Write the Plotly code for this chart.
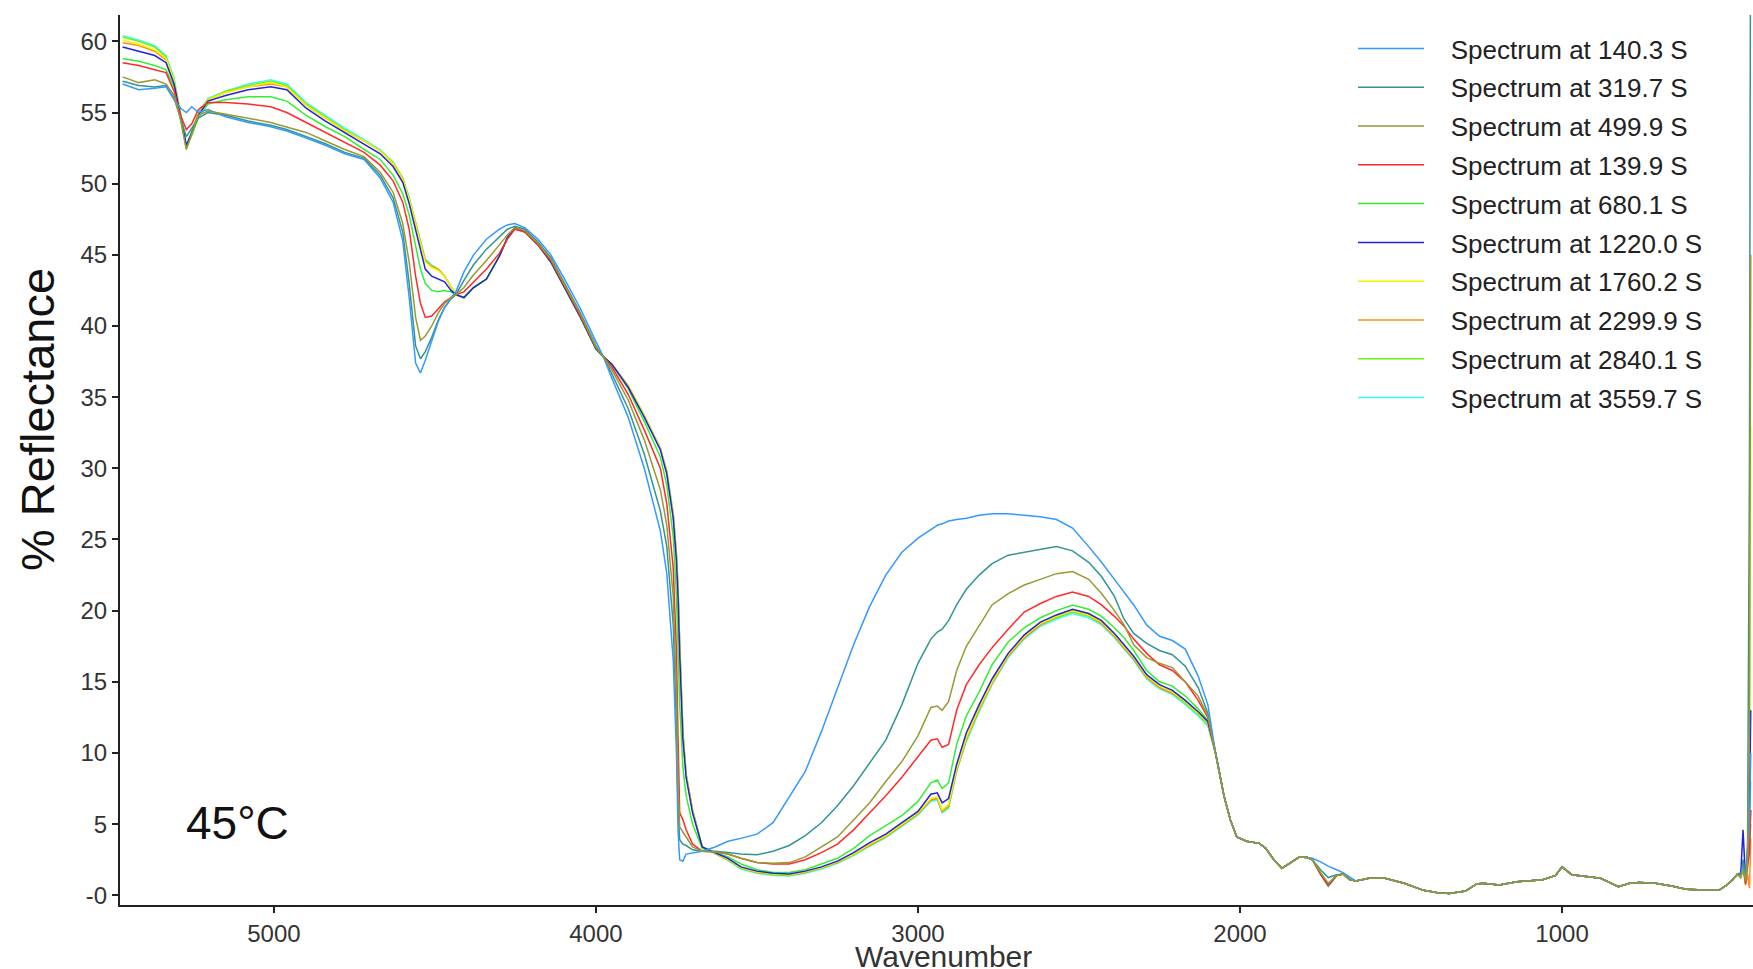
import plotly.graph_objects as go

# ---------------- wavenumber knots (cm-1) ----------------
HEAD_WN = [5470, 5420, 5370, 5335, 5310, 5290, 5272, 5255, 5235, 5205,
           5150, 5080, 5010, 4960, 4900, 4840, 4780, 4720, 4670, 4630,
           4600, 4580, 4560, 4545, 4530, 4510, 4490, 4470, 4450, 4435,
           4410, 4380, 4340, 4300, 4275, 4252, 4220, 4180, 4140, 4100,
           4050, 4000, 3977, 3950, 3900, 3850, 3800, 3780, 3760, 3750,
           3745, 3740, 3730, 3720, 3700, 3670]
MID_WN = [3630, 3590, 3550, 3500, 3450, 3400, 3350, 3300, 3250, 3200,
          3150, 3100, 3050, 3000, 2960, 2940, 2925, 2905, 2880, 2850,
          2810, 2770, 2720, 2670, 2620, 2570, 2520, 2470, 2430, 2390,
          2360, 2330, 2290, 2250, 2210, 2170, 2130, 2100]
TAIL_A_WN = [2075, 2050, 2030, 2010, 1980, 1940, 1920, 1895, 1870, 1845, 1815, 1790]
DIP_WN = [1775, 1750, 1726, 1700, 1680, 1660]
TAIL_B_WN = [1640, 1600, 1550, 1490, 1430, 1390, 1350, 1300, 1265, 1245,
             1195, 1140, 1060, 1020, 1000, 970, 935, 880, 825, 790,
             760, 710, 660, 615, 560, 512, 490, 470, 455]
END_WN = [445, 438, 430, 424, 418, 414]

# ---------------- shared low-wavenumber region (% reflectance) ----------------
TAIL_A = [9.9, 7.0, 5.3, 4.1, 3.8, 3.65, 3.3, 2.5, 1.9, 2.25, 2.7, 2.65]
TAIL_B = [1.0, 1.2, 1.2, 0.85, 0.35, 0.2, 0.12, 0.3, 0.8, 0.85,
          0.72, 0.95, 1.1, 1.4, 2.0, 1.45, 1.35, 1.2, 0.6, 0.85,
          0.9, 0.85, 0.65, 0.42, 0.38, 0.37, 0.7, 1.1, 1.5]

# ---------------- per-spectrum values ----------------
s140_3_head = [57.0, 56.6, 56.7, 56.8, 55.9, 55.3, 55.0, 55.4, 55.0, 55.2,
               54.7, 54.3, 54.0, 53.7, 53.2, 52.7, 52.1, 51.7, 50.4, 48.7,
               46.0, 42.0, 37.4, 36.7, 37.6, 39.0, 40.3, 41.3, 42.0, 42.4,
               43.8, 45.0, 46.1, 46.8, 47.1, 47.2, 46.9, 46.1, 45.0, 43.4,
               41.3, 38.9, 37.85, 36.3, 33.6, 30.0, 25.6, 22.6, 16.5, 10.0,
               4.5, 2.5, 2.4, 2.9, 3.0, 3.1]
s140_3_mid = [3.4, 3.8, 4.0, 4.3, 5.1, 6.9, 8.7, 11.5, 14.6, 17.6,
              20.3, 22.5, 24.1, 25.1, 25.7, 26.0, 26.1, 26.3, 26.4, 26.5,
              26.7, 26.8, 26.8, 26.7, 26.6, 26.4, 25.8, 24.5, 23.4, 22.2,
              21.3, 20.4, 19.0, 18.2, 17.9, 17.3, 15.4, 13.4]
s140_3_dip = [2.6, 2.35, 2.05, 1.8, 1.6, 1.3]
s140_3_end = [1.4, 2.0, 1.0, 3.0, 5.0, 10.0]

s319_7_head = [57.2, 56.9, 56.8, 56.9, 56.0, 54.6, 53.3, 53.9, 54.6, 55.0,
               54.8, 54.4, 54.1, 53.8, 53.3, 52.8, 52.2, 51.8, 50.6, 49.0,
               46.6, 43.0, 38.6, 37.7, 38.2, 39.2, 40.4, 41.3, 41.9, 42.2,
               43.2, 44.3, 45.4, 46.3, 46.8, 47.0, 46.8, 45.9, 44.8, 43.1,
               41.0, 38.6, 37.85, 36.6, 34.2, 31.0, 27.0, 24.5, 19.0, 12.0,
               6.0, 3.9, 3.6, 3.5, 3.2, 3.1]
s319_7_mid = [3.1, 3.0, 2.9, 2.85, 3.1, 3.5, 4.2, 5.1, 6.3, 7.7,
              9.3, 10.9, 13.4, 16.3, 18.0, 18.5, 18.7, 19.3, 20.4, 21.5,
              22.5, 23.3, 23.9, 24.1, 24.3, 24.5, 24.2, 23.4, 22.4, 21.0,
              19.4, 18.4, 17.7, 17.2, 16.9, 16.1, 14.6, 12.8]
s319_7_dip = [2.5, 1.8, 1.25, 1.45, 1.5, 1.15]
s319_7_end = [1.3, 2.5, 1.5, 3.0, 30.0, 75.0]

s499_9_head = [57.5, 57.1, 57.3, 57.0, 56.2, 54.5, 52.4, 53.5, 54.8, 55.1,
               54.9, 54.6, 54.3, 54.0, 53.6, 53.0, 52.4, 51.9, 50.8, 49.4,
               47.2, 44.5, 40.6, 39.0, 39.3, 40.0, 40.9, 41.6, 42.0, 42.2,
               42.7, 43.6, 44.6, 45.7, 46.4, 46.9, 46.7, 45.8, 44.7, 43.0,
               40.9, 38.5, 37.85, 36.9, 34.8, 32.0, 28.5, 26.0, 21.0, 14.0,
               8.0, 4.8, 4.4, 4.1, 3.4, 3.1]
s499_9_mid = [3.05, 2.9, 2.6, 2.3, 2.25, 2.3, 2.7, 3.4, 4.1, 5.3,
              6.5, 8.0, 9.4, 11.2, 13.2, 13.3, 13.0, 13.6, 15.8, 17.5,
              19.0, 20.4, 21.2, 21.8, 22.2, 22.6, 22.75, 22.2, 21.2, 20.0,
              19.0, 17.6, 16.7, 16.3, 16.0, 15.0, 14.0, 12.6]
s499_9_dip = [2.5, 1.6, 0.85, 1.4, 1.5, 1.1]
s499_9_end = [1.2, 1.8, 1.0, 2.5, 12.0, 45.0]

s139_9_head = [58.5, 58.3, 58.0, 57.8, 56.5, 54.8, 53.8, 54.2, 55.2, 55.7,
               55.7, 55.6, 55.4, 55.0, 54.3, 53.6, 52.9, 52.2, 51.3, 50.2,
               48.7, 46.8, 43.5, 41.6, 40.6, 40.7, 41.2, 41.7, 42.0, 42.2,
               42.4, 43.1, 44.0, 45.1, 46.1, 46.8, 46.6, 45.7, 44.6, 42.9,
               40.8, 38.5, 37.85, 37.1, 35.2, 32.7, 30.0, 27.5, 23.0, 17.0,
               11.0, 5.8, 5.3, 4.6, 3.6, 3.1]
s139_9_mid = [3.05, 2.9, 2.6, 2.3, 2.2, 2.2, 2.5, 3.0, 3.6, 4.6,
              5.8, 7.0, 8.3, 9.7, 10.9, 11.0, 10.4, 10.6, 13.0, 14.8,
              16.2, 17.4, 18.7, 19.9, 20.5, 21.0, 21.3, 21.0, 20.4, 19.6,
              18.9, 18.0, 17.0, 16.2, 15.8, 15.0, 13.7, 12.5]
s139_9_dip = [2.5, 1.5, 0.7, 1.4, 1.5, 1.1]
s139_9_end = [1.3, 2.1, 0.8, 2.0, 3.0, 6.0]

s680_1_head = [58.8, 58.6, 58.3, 58.0, 56.8, 54.6, 52.5, 53.4, 54.6, 55.6,
               55.9, 56.1, 56.1, 55.8, 54.8, 54.0, 53.3, 52.4, 51.7, 50.6,
               49.3, 47.8, 45.6, 44.0, 43.0, 42.5, 42.4, 42.5, 42.4, 42.2,
               42.0, 42.7, 43.3, 44.9, 46.2, 46.9, 46.6, 45.7, 44.5, 42.8,
               40.7, 38.4, 37.85, 37.3, 35.6, 33.3, 30.8, 28.8, 25.2, 21.0,
               17.5, 13.5, 9.0, 7.0, 5.0, 3.3]
s680_1_mid = [3.0, 2.7, 2.2, 1.8, 1.6, 1.6, 1.8, 2.2, 2.6, 3.3,
              4.2, 4.9, 5.6, 6.6, 7.9, 8.1, 7.5, 7.9, 10.6, 12.6,
              14.3, 16.2, 17.8, 18.8, 19.5, 20.0, 20.4, 20.1, 19.6, 18.8,
              18.1, 17.2, 15.8, 15.0, 14.7, 14.0, 13.1, 12.3]
s680_1_dip = [2.5, 1.5, 0.7, 1.4, 1.5, 1.1]
s680_1_end = [1.4, 2.3, 0.9, 2.5, 3.5, 5.0]

s1220_0_head = [59.6, 59.3, 59.0, 58.5, 57.0, 54.8, 52.7, 53.6, 54.8, 55.8,
                56.2, 56.6, 56.8, 56.6, 55.3, 54.4, 53.6, 52.8, 52.1, 51.2,
                50.1, 48.6, 46.8, 45.3, 44.0, 43.5, 43.3, 43.1, 42.5, 42.2,
                42.0, 42.7, 43.3, 44.9, 46.2, 46.9, 46.6, 45.7, 44.5, 42.8,
                40.7, 38.4, 37.85, 37.3, 35.7, 33.6, 31.3, 29.6, 26.5, 23.5,
                21.0, 17.0, 11.0, 8.3, 5.8, 3.4]
s1220_0_mid = [3.0, 2.6, 2.0, 1.7, 1.55, 1.5, 1.7, 2.0, 2.4, 3.0,
               3.7, 4.3, 5.1, 5.9, 7.1, 7.2, 6.5, 6.8, 9.2, 11.4,
               13.4, 15.2, 17.0, 18.3, 19.2, 19.7, 20.1, 19.8, 19.3, 18.4,
               17.6, 16.8, 15.5, 14.8, 14.4, 13.7, 12.9, 12.2]
s1220_0_dip = [2.5, 1.5, 0.7, 1.4, 1.5, 1.1]
s1220_0_end = [1.5, 4.6, 1.0, 3.0, 6.0, 13.0]

s1760_2_head = [60.1, 59.8, 59.4, 58.8, 57.2, 54.9, 52.5, 53.6, 54.9, 55.9,
                56.4, 56.8, 57.1, 56.8, 55.5, 54.6, 53.7, 53.0, 52.3, 51.4,
                50.3, 48.9, 47.1, 45.8, 44.5, 44.1, 43.9, 43.5, 42.7, 42.2,
                42.0, 42.7, 43.3, 44.9, 46.2, 46.9, 46.6, 45.7, 44.5, 42.8,
                40.7, 38.4, 37.85, 37.3, 35.8, 33.7, 31.4, 29.7, 26.7, 23.8,
                21.3, 17.5, 11.3, 8.4, 5.9, 3.4]
s1760_2_mid = [2.95, 2.55, 1.95, 1.65, 1.5, 1.45, 1.65, 1.95, 2.35, 2.9,
               3.6, 4.2, 5.0, 5.8, 6.8, 6.9, 6.0, 6.4, 8.9, 11.1,
               13.2, 15.0, 16.9, 18.2, 19.1, 19.6, 20.0, 19.7, 19.2, 18.3,
               17.5, 16.7, 15.4, 14.7, 14.3, 13.6, 12.8, 12.1]
s1760_2_dip = [2.5, 1.5, 0.7, 1.4, 1.5, 1.1]
s1760_2_end = [1.3, 2.2, 1.0, 2.0, 8.0, 33.0]

s2299_9_head = [59.9, 59.7, 59.3, 58.7, 57.1, 54.8, 52.5, 53.6, 54.9, 55.9,
                56.4, 56.8, 57.0, 56.8, 55.5, 54.6, 53.7, 53.0, 52.3, 51.4,
                50.3, 48.9, 47.1, 45.8, 44.6, 44.2, 44.0, 43.5, 42.7, 42.2,
                42.0, 42.7, 43.3, 44.9, 46.2, 46.9, 46.6, 45.7, 44.5, 42.8,
                40.7, 38.4, 37.85, 37.3, 35.8, 33.7, 31.4, 29.7, 26.7, 23.9,
                21.4, 17.6, 11.4, 8.5, 6.0, 3.4]
s2299_9_mid = [2.95, 2.5, 1.95, 1.6, 1.5, 1.45, 1.6, 1.95, 2.3, 2.9,
               3.55, 4.15, 4.95, 5.75, 6.7, 6.8, 5.9, 6.3, 8.8, 11.0,
               13.1, 14.9, 16.8, 18.1, 19.0, 19.6, 20.0, 19.7, 19.1, 18.2,
               17.4, 16.6, 15.3, 14.6, 14.2, 13.6, 12.8, 12.1]
s2299_9_dip = [2.5, 1.5, 0.7, 1.4, 1.5, 1.1]
s2299_9_end = [1.3, 1.9, 0.7, 1.5, 0.5, 4.0]

s2840_1_head = [60.3, 60.0, 59.6, 58.9, 57.3, 55.0, 52.5, 53.6, 54.9, 55.9,
                56.5, 56.9, 57.2, 56.9, 55.6, 54.7, 53.8, 53.0, 52.3, 51.5,
                50.4, 49.0, 47.2, 45.9, 44.6, 44.2, 44.0, 43.5, 42.7, 42.2,
                42.0, 42.7, 43.3, 44.9, 46.2, 46.9, 46.6, 45.7, 44.5, 42.8,
                40.7, 38.4, 37.85, 37.3, 35.8, 33.7, 31.4, 29.8, 26.8, 24.0,
                21.5, 17.8, 11.5, 8.5, 6.0, 3.4]
s2840_1_mid = [2.95, 2.5, 1.9, 1.6, 1.45, 1.4, 1.6, 1.9, 2.3, 2.85,
               3.5, 4.1, 4.9, 5.7, 6.7, 6.8, 5.9, 6.2, 8.8, 10.9,
               13.0, 14.9, 16.8, 18.1, 19.0, 19.5, 19.9, 19.6, 19.1, 18.2,
               17.4, 16.6, 15.3, 14.6, 14.2, 13.5, 12.7, 12.0]
s2840_1_dip = [2.5, 1.5, 0.65, 1.4, 1.5, 1.1]
s2840_1_end = [1.5, 2.4, 1.0, 2.8, 4.0, 6.0]

s3559_7_head = [60.4, 60.1, 59.7, 59.0, 57.4, 55.0, 52.6, 53.7, 55.0, 56.0,
                56.5, 57.0, 57.3, 57.0, 55.7, 54.8, 53.9, 53.1, 52.4, 51.5,
                50.4, 49.0, 47.3, 46.0, 44.7, 44.3, 44.0, 43.5, 42.7, 42.2,
                42.0, 42.7, 43.3, 44.9, 46.2, 46.9, 46.6, 45.7, 44.5, 42.8,
                40.7, 38.4, 37.85, 37.3, 35.8, 33.7, 31.4, 29.8, 26.8, 24.0,
                21.5, 17.8, 11.5, 8.5, 6.0, 3.4]
s3559_7_mid = [2.9, 2.45, 1.85, 1.55, 1.4, 1.35, 1.55, 1.85, 2.25, 2.8,
               3.45, 4.05, 4.85, 5.65, 6.6, 6.7, 5.8, 6.1, 8.7, 10.8,
               12.9, 14.8, 16.7, 18.0, 18.9, 19.4, 19.8, 19.5, 19.0, 18.1,
               17.3, 16.5, 15.2, 14.5, 14.1, 13.4, 12.6, 11.9]
s3559_7_dip = [2.5, 1.45, 0.6, 1.4, 1.5, 1.1]
s3559_7_end = [1.6, 2.5, 1.2, 3.5, 5.0, 8.0]

NAMES = ["Spectrum at 140.3 S", "Spectrum at 319.7 S", "Spectrum at 499.9 S",
         "Spectrum at 139.9 S", "Spectrum at 680.1 S", "Spectrum at 1220.0 S",
         "Spectrum at 1760.2 S", "Spectrum at 2299.9 S", "Spectrum at 2840.1 S",
         "Spectrum at 3559.7 S"]
COLORS = ["#3399FF", "#339494", "#999933", "#FF2A2A", "#33EE33",
          "#2222DD", "#F5F500", "#FF8C1A", "#77EE11", "#33FFFF"]
PARTS = [
    (s140_3_head, s140_3_mid, s140_3_dip, s140_3_end),
    (s319_7_head, s319_7_mid, s319_7_dip, s319_7_end),
    (s499_9_head, s499_9_mid, s499_9_dip, s499_9_end),
    (s139_9_head, s139_9_mid, s139_9_dip, s139_9_end),
    (s680_1_head, s680_1_mid, s680_1_dip, s680_1_end),
    (s1220_0_head, s1220_0_mid, s1220_0_dip, s1220_0_end),
    (s1760_2_head, s1760_2_mid, s1760_2_dip, s1760_2_end),
    (s2299_9_head, s2299_9_mid, s2299_9_dip, s2299_9_end),
    (s2840_1_head, s2840_1_mid, s2840_1_dip, s2840_1_end),
    (s3559_7_head, s3559_7_mid, s3559_7_dip, s3559_7_end),
]
# drawing order (last on top); legend order kept via legendrank
DRAW_ORDER = [9, 8, 7, 6, 4, 5, 3, 1, 0, 2]

X_ALL = HEAD_WN + MID_WN + TAIL_A_WN + DIP_WN + TAIL_B_WN + END_WN

fig = go.Figure()
for i in DRAW_ORDER:
    head, mid, dip, end = PARTS[i]
    y_all = head + mid + TAIL_A + dip + TAIL_B + end
    fig.add_trace(go.Scatter(
        x=X_ALL, y=y_all, mode="lines", name="\u00a0\u00a0\u00a0" + NAMES[i],
        line=dict(color=COLORS[i], width=1.5),
        legendrank=i + 1, legendgroup=f"g{i}",
    ))

Y_TICKS = [0, 5, 10, 15, 20, 25, 30, 35, 40, 45, 50, 55, 60]
Y_TICKTEXT = ["-0", "5", "10", "15", "20", "25", "30", "35", "40", "45", "50", "55", "60"]
X_TICKS = [5000, 4000, 3000, 2000, 1000]

axis_common = dict(showline=True, linecolor="#222", linewidth=2, showgrid=False,
                   zeroline=False, ticks="outside", ticklen=6, tickwidth=1.5,
                   tickcolor="#222",
                   tickfont=dict(family="Arial", size=24, color="#333"))

fig.update_layout(
    width=1753, height=969,
    margin=dict(l=120, r=0, t=15, b=64),
    paper_bgcolor="white", plot_bgcolor="white",
    font=dict(family="Arial", color="#222"),
    xaxis=dict(range=[5478, 407], tickvals=X_TICKS, **axis_common),
    yaxis=dict(range=[-0.68, 61.85], tickvals=Y_TICKS, ticktext=Y_TICKTEXT, **axis_common),
    legend=dict(x=(1353 - 120) / 1633, xanchor="left", y=(905 - 25) / 890, yanchor="top",
                font=dict(family="Arial", size=26, color="#222"),
                bgcolor="rgba(0,0,0,0)", itemwidth=66, tracegroupgap=2,
                traceorder="grouped"),
    annotations=[
        dict(text="% Reflectance", xref="paper", yref="paper",
             x=(37 - 120) / 1633, y=(905 - 420) / 890, xanchor="center", yanchor="middle",
             textangle=-90, showarrow=False,
             font=dict(family="Arial", size=47, color="#111")),
        dict(text="Wavenumber", xref="paper", yref="paper",
             x=(943 - 120) / 1633, y=(905 - 939) / 890, xanchor="center", yanchor="top",
             showarrow=False, borderpad=0,
             font=dict(family="Arial", size=30, color="#333")),
        dict(text="45°C", xref="paper", yref="paper",
             x=(237 - 120) / 1633, y=(905 - 823) / 890, xanchor="center", yanchor="middle",
             showarrow=False, font=dict(family="Arial", size=46, color="#111")),
    ],
)

fig.write_html("out.html", config={"displayModeBar": False},
               post_script="document.body.style.margin='0px';")
